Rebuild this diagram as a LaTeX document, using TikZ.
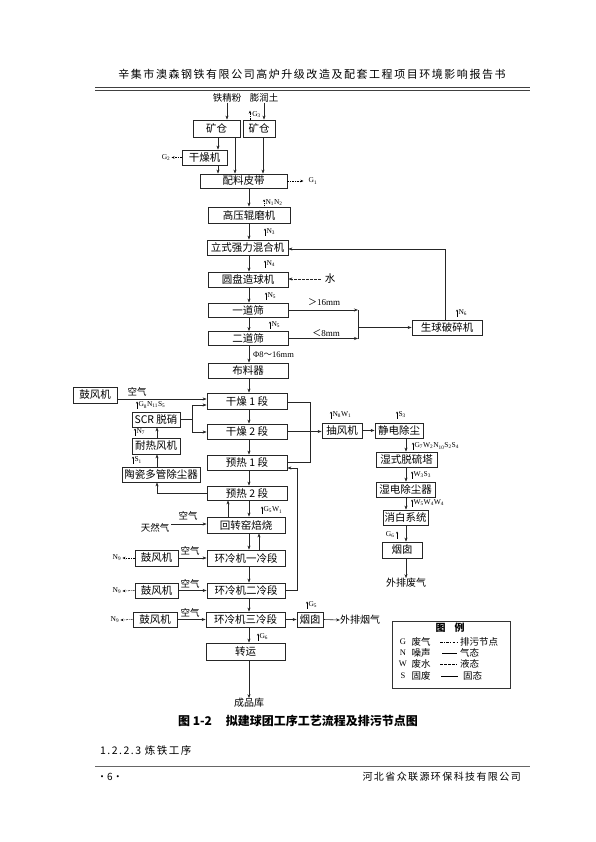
\documentclass[tikz,border=0pt]{standalone}
\usepackage{fontspec}
\setmainfont{Liberation Serif}
\newfontfamily\cjk{Noto Sans CJK SC}
\newfontfamily\cjksp[LetterSpace=14]{Noto Sans CJK SC}
\usetikzlibrary{arrows.meta}
\newcommand\ssb[1]{\textsubscript{#1}}
\newcommand\emark[4]{\draw[emis] (#2,#3+3.5) -- (#2,#3-3.5); \node[lbl] (#1) at (#2+1,#3) {#4};}
\begin{document}
\begin{tikzpicture}[x=1pt,y=-1pt,
  box/.style={draw=black!85, line width=0.8pt, inner sep=0pt, font=\cjk\fontsize{10.5}{12}\selectfont},
  arr/.style={-{Stealth[length=4pt,width=3pt]}, line width=0.6pt, draw=black!85},
  ln/.style={line width=0.6pt, draw=black!85},
  emis/.style={-{Stealth[length=2pt,width=2pt]}, line width=0.4pt, dash pattern=on 1.2pt off 0.8pt},
  lbl/.style={font=\fontsize{7.5}{8}\selectfont, inner sep=0.3pt, anchor=west},
  txt/.style={font=\cjk\fontsize{9.5}{11}\selectfont, inner sep=0pt},
  gd/.style={-{Stealth[length=3pt,width=2.5pt]}, line width=0.5pt, dash pattern=on 2pt off 1pt on 0.6pt off 1pt},
  glab/.style={font=\fontsize{7.5}{8}\selectfont, inner sep=1pt}]
\useasboundingbox (0,0) rectangle (595,842);
\fill[white] (0,0) rectangle (595,842);

% header / footer
\node[font=\cjksp\fontsize{11}{12}\selectfont, inner sep=0pt] (hdr) at (312,74) {辛集市澳森钢铁有限公司高炉升级改造及配套工程项目环境影响报告书};
\draw[line width=1.3pt, black!75] (95,87.5) -- (530,87.5);
\draw[line width=0.5pt, black!75] (95,90.5) -- (530,90.5);
\node[font=\cjk\bfseries\fontsize{12}{14}\selectfont, inner sep=0pt] (cap) at (298,721) {图 1-2\hspace{14pt}拟建球团工序工艺流程及排污节点图};
\node[font=\cjksp\fontsize{10.5}{12}\selectfont, inner sep=0pt, anchor=west] (sec) at (100,750) {1.2.2.3 炼铁工序};
\draw[line width=1.3pt, black!60] (95,766.5) -- (530,766.5);
\node[font=\cjk\fontsize{10}{11}\selectfont, inner sep=0pt, anchor=west] (pg) at (97,777) {·6·};
\node[font=\cjksp\fontsize{10}{12}\selectfont, inner sep=0pt, anchor=east] (org) at (521,777) {河北省众联源环保科技有限公司};

% helper coordinates
\coordinate (cA) at (218,0); \coordinate (cB) at (235,0); \coordinate (cC) at (263,0);
\coordinate (cE) at (249,0); \coordinate (cF) at (406,0); \coordinate (cG) at (157,0);
\coordinate (cH) at (228,0); \coordinate (cI) at (259,0); \coordinate (cJ) at (445,0);
\coordinate (cK) at (358,0); \coordinate (cL) at (310,0); \coordinate (cM) at (297,0);
\coordinate (cN) at (192,0); \coordinate (cG3) at (250,0);
\coordinate (rA) at (0,405); \coordinate (rB) at (0,432); \coordinate (rC) at (0,462);
\coordinate (rD) at (0,468); \coordinate (rE) at (0,399); \coordinate (rF) at (0,249);
\coordinate (rG) at (0,402);

% top inputs
\node[txt] (tjf) at (227,98) {铁精粉};
\node[txt] (prt) at (264,98) {膨润土};

% boxes
\node[box, minimum width=47pt, minimum height=17pt] (kc1) at (216.5,128.5) {矿仓};
\node[box, minimum width=32pt, minimum height=17pt] (kc2) at (259,128.5) {矿仓};
\node[box, minimum width=45pt, minimum height=15pt] (gzj) at (204.5,157.5) {干燥机};
\node[box, minimum width=87pt, minimum height=14pt] (plpd) at (243.5,181) {配料皮带};
\node[box, minimum width=82pt, minimum height=16pt] (gyg) at (249,215) {高压辊磨机};
\node[box, minimum width=81pt, minimum height=15pt] (hhj) at (247.5,247.5) {立式强力混合机};
\node[box, minimum width=80pt, minimum height=15pt] (zqj) at (248,279.5) {圆盘造球机};
\node[box, minimum width=80pt, minimum height=14pt] (yds) at (248,310) {一道筛};
\node[box, minimum width=80pt, minimum height=14pt] (eds) at (248,338.5) {二道筛};
\node[box, minimum width=80pt, minimum height=15pt] (blq) at (248,370.5) {布料器};
\node[box, minimum width=70pt, minimum height=15pt] (sqps) at (447,327.5) {生球破碎机};
\node[box, minimum width=80pt, minimum height=16pt] (gz1) at (247,401) {干燥 1 段};
\node[box, minimum width=80pt, minimum height=15pt] (gz2) at (247,431.5) {干燥 2 段};
\node[box, minimum width=80pt, minimum height=15pt] (yr1) at (247,462.5) {预热 1 段};
\node[box, minimum width=80pt, minimum height=14pt] (yr2) at (247,493) {预热 2 段};
\node[box, minimum width=78pt, minimum height=16pt] (hzy) at (246,525) {回转窑焙烧};
\node[box, minimum width=78pt, minimum height=16pt] (lq1) at (246,558) {环冷机一冷段};
\node[box, minimum width=78pt, minimum height=15pt] (lq2) at (246,590.5) {环冷机二冷段};
\node[box, minimum width=79pt, minimum height=15pt] (lq3) at (245.5,619.5) {环冷机三冷段};
\node[box, minimum width=79pt, minimum height=17pt] (zy) at (245.5,651.5) {转运};
\node[box, minimum width=44pt, minimum height=16pt] (gfj1) at (95,395) {鼓风机};
\node[box, minimum width=48pt, minimum height=15pt] (scr) at (156,419.5) {SCR 脱硝};
\node[box, minimum width=48pt, minimum height=16pt] (nrfj) at (156,446) {耐热风机};
\node[box, minimum width=78pt, minimum height=15pt] (tc) at (161,474.5) {陶瓷多管除尘器};
\node[box, minimum width=40pt, minimum height=15pt] (cfj) at (342,430.5) {抽风机};
\node[box, minimum width=48pt, minimum height=15pt] (jdcc) at (399,430.5) {静电除尘};
\node[box, minimum width=61pt, minimum height=15pt] (sstl) at (406.5,459.5) {湿式脱硫塔};
\node[box, minimum width=59pt, minimum height=15pt] (sdcc) at (405.5,489.5) {湿电除尘器};
\node[box, minimum width=45pt, minimum height=15pt] (xbxt) at (405.5,517.5) {消白系统};
\node[box, minimum width=40pt, minimum height=16pt] (yc) at (402,550) {烟囱};
\node[box, minimum width=43pt, minimum height=16pt] (gfj2) at (156.5,558) {鼓风机};
\node[box, minimum width=43pt, minimum height=15pt] (gfj3) at (156.5,590.5) {鼓风机};
\node[box, minimum width=44pt, minimum height=15pt] (gfj4) at (155,619.5) {鼓风机};
\node[box, minimum width=26pt, minimum height=15pt] (yc2) at (310,619.5) {烟囱};

% free texts
\node[txt, font=\cjk\fontsize{10.5}{12}\selectfont] (shui) at (330,279) {水};
\node[txt, font=\fontsize{9}{10}\selectfont] (gt16) at (324,302) {\cjk ＞\rmfamily 16mm};
\node[txt, font=\fontsize{9}{10}\selectfont] (lt8) at (326,333) {\cjk ＜\rmfamily 8mm};
\node[txt, font=\fontsize{8.5}{10}\selectfont, anchor=west] (phi) at (253,355) {Φ8\cjk ～\rmfamily 16mm};
\node[txt] (kq1) at (137,392) {空气};
\node[txt] (kq2) at (188,516) {空气};
\node[txt] (trq) at (155,528) {天然气};
\node[txt] (kq3) at (190,551) {空气};
\node[txt] (kq4) at (190,584) {空气};
\node[txt] (kq5) at (190,613) {空气};
\node[glab] (n9a) at (117,558) {N\ssb{9}};
\node[glab] (n9b) at (117,591) {N\ssb{9}};
\node[glab] (n9c) at (115,620) {N\ssb{9}};
\node[txt, font=\cjk\fontsize{10}{12}\selectfont] (wpfq) at (406,583) {外排废气};
\node[txt, font=\cjk\fontsize{10}{12}\selectfont, anchor=west] (wpyq) at (340,620) {外排烟气};
\node[txt, font=\cjk\fontsize{10}{12}\selectfont] (cpk) at (249,703) {成品库};

% top connectors
\draw[arr] (tjf.south) -- (tjf.south |- kc1.north);
\draw[arr] (prt.south) -- (prt.south |- kc2.north);
\draw[arr] (kc1.south -| cA) -- (gzj.north -| cA);
\draw[arr] (gzj.south -| cA) -- (plpd.north -| cA);
\draw[arr] (kc1.south -| cB) -- (plpd.north -| cB);
\draw[arr] (kc2.south -| cC) -- (plpd.north -| cC);
\draw[gd] (kc2.north -| cG3) -- ++(0,-9) node[glab, anchor=west, pos=0.6, xshift=1pt] (g3) {G\ssb{3}};
\draw[gd] (gzj.west) -- ++(-10,0) node[glab, anchor=east] (g2) {G\ssb{2}};
\draw[gd] (plpd.east) -- ++(16,0) node[glab, anchor=west, xshift=4pt] (g1) {G\ssb{1}};

% main chain
\foreach \a/\b in {plpd/gyg,gyg/hhj,hhj/zqj,zqj/yds,yds/eds,eds/blq,blq/gz1,gz1/gz2,gz2/yr1,yr1/yr2,yr2/hzy,hzy/lq1,lq1/lq2,lq2/lq3,lq3/zy,zy/cpk}
  \draw[arr] (\a.south -| cE) -- (\b.north -| cE);
\draw[arr] (hzy.north -| cH) -- (yr2.south -| cH);
\draw[arr] (lq1.north -| cI) -- (hzy.south -| cI);

% water, screens, crusher loop
\draw[arr, dash pattern=on 2.5pt off 1.5pt] (shui.west) ++(-4,0) -- (zqj.east |- shui.west);
\draw[arr] (yds.east) -- (cK |- yds.east);
\draw[arr] (eds.east) -- (cK |- eds.east);
\draw[ln] (cK |- yds.east) -- (cK |- eds.east);
\draw[arr] (cK |- sqps.west) -- (sqps.west);
\draw[arr] (sqps.north -| cJ) -- (cJ |- rF) -- (hhj.east |- rF);

% left side
\draw[arr] (gfj1.east |- rE) -- (gz1.west |- rE);
\draw[ln] (scr.east) -- (cN |- scr.east);
\draw[arr] (cN |- scr.east) -- (cN |- rA) -- (gz1.west |- rA);
\draw[arr] (cN |- scr.east) -- (cN |- rB) -- (gz2.west |- rB);
\draw[arr] (nrfj.north -| cG) -- (scr.south -| cG);
\draw[arr] (tc.north -| cG) -- (nrfj.south -| cG);
\draw[arr] (yr2.west) -- (cG |- yr2.west) -- (tc.south -| cG);

% right side
\draw[ln] (gz1.east |- rG) -- (cL |- rG) -- (cL |- rC) -- (yr1.east |- rC);
\draw[arr] (gz2.east) -- (cfj.west |- gz2.east);
\draw[arr] (cfj.east) -- (jdcc.west |- cfj.east);
\draw[arr] (jdcc.south -| cF) -- (sstl.north -| cF);
\draw[arr] (sstl.south -| cF) -- (sdcc.north -| cF);
\draw[arr] (sdcc.south -| cF) -- (xbxt.north -| cF);
\draw[arr] (xbxt.south -| cF) -- (yc.north -| cF);
\draw[arr] (yc.south -| cF) -- (wpfq.north -| cF);
\draw[arr] (lq2.east) -- (cM |- lq2.east) -- (cM |- rD) -- (yr1.east |- rD);

% kiln and coolers
\coordinate (ngs) at (171,524);
\draw[arr] (ngs) -- (hzy.west |- ngs);
\draw[arr] (gfj2.east) -- (lq1.west);
\draw[arr] (gfj3.east) -- (lq2.west);
\draw[arr] (gfj4.east) -- (lq3.west);
\draw[gd] (gfj2.west) -- (n9a.east);
\draw[gd] (gfj3.west) -- (n9b.east);
\draw[gd] (gfj4.west) -- (n9c.east);
\draw[arr] (lq3.east) -- (yc2.west);
\draw[arr] (yc2.east) -- (wpyq.west);

% emission marks
\emark{e1}{264}{203}{N\ssb{1}N\ssb{2}}
\emark{e2}{265}{232}{N\ssb{3}}
\emark{e3}{265}{264}{N\ssb{4}}
\emark{e4}{266}{296}{N\ssb{5}}
\emark{e5}{270}{325}{N\ssb{5}}
\emark{e6}{457}{313}{N\ssb{6}}
\emark{e7}{137}{405}{G\ssb{8}N\ssb{11}S\ssb{5}}
\emark{e8}{135}{432}{N\ssb{7}}
\emark{e9}{133}{460}{S\ssb{1}}
\emark{e10}{331}{415}{N\ssb{8}W\ssb{1}}
\emark{e11}{397}{415}{S\ssb{3}}
\emark{e12}{413}{446}{G\ssb{7}W\ssb{2}N\ssb{10}S\ssb{2}S\ssb{4}}
\emark{e13}{412}{475}{W\ssb{3}S\ssb{3}}
\emark{e14}{412}{503}{W\ssb{5}W\ssb{4}W\ssb{4}}
\emark{e15}{262}{510}{G\ssb{5}W\ssb{1}}
\emark{e16}{307}{605}{G\ssb{5}}
\emark{e17}{258}{637}{G\ssb{6}}
\draw[emis] (397,538.5) -- (397,531.5);
\node[lbl, anchor=east] (e18) at (395,535) {G\ssb{6}};

% legend
\node[draw=black!80, line width=0.9pt, minimum width=118pt, minimum height=67pt, inner sep=0pt] (leg) at (451,654.5) {};
\node[font=\cjk\bfseries\fontsize{10}{12}\selectfont, inner sep=0pt] (legt) at (450,628) {图\hspace{9pt}例};
\node[font=\fontsize{8.5}{10}\selectfont, inner sep=0pt] (lg1) at (403,642) {G};
\node[font=\fontsize{8.5}{10}\selectfont, inner sep=0pt] (lg2) at (403,653) {N};
\node[font=\fontsize{8.5}{10}\selectfont, inner sep=0pt] (lg3) at (403,664) {W};
\node[font=\fontsize{8.5}{10}\selectfont, inner sep=0pt] (lg4) at (403,676) {S};
\node[txt] (lw1) at (421,642) {废气};
\node[txt] (lw2) at (421,653) {噪声};
\node[txt] (lw3) at (421,664) {废水};
\node[txt] (lw4) at (421,676) {固废};
\draw[line width=0.6pt, dash pattern=on 2.5pt off 1.5pt on 0.8pt off 1.5pt] (440,642) -- (457,642);
\draw[line width=0.6pt] (442,653) -- (457,653);
\draw[line width=0.6pt, dash pattern=on 2.5pt off 1.5pt] (440,664) -- (457,664);
\draw[line width=0.9pt] (441,676) -- (458,676);
\node[txt, anchor=west] (lx1) at (460,642) {排污节点};
\node[txt, anchor=west] (lx2) at (460,653) {气态};
\node[txt, anchor=west] (lx3) at (460,664) {液态};
\node[txt, anchor=west] (lx4) at (463,676) {固态};
\end{tikzpicture}
\end{document}
